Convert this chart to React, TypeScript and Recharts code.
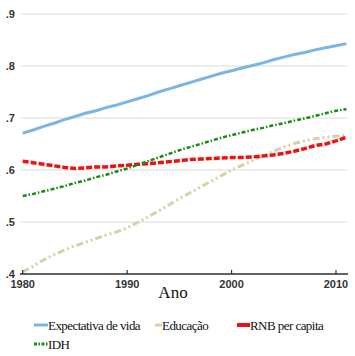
import React from 'react';
import { LineChart, Line, XAxis, YAxis, CartesianGrid, Label } from 'recharts';

const years = [
  1980, 1981, 1982, 1983, 1984, 1985, 1986, 1987, 1988, 1989,
  1990, 1991, 1992, 1993, 1994, 1995, 1996, 1997, 1998, 1999,
  2000, 2001, 2002, 2003, 2004, 2005, 2006, 2007, 2008, 2009,
  2010, 2011,
];

const expectativa = [
  0.671, 0.677, 0.684, 0.69, 0.697, 0.703, 0.709, 0.714, 0.72, 0.725,
  0.731, 0.737, 0.743, 0.75, 0.756, 0.762, 0.768, 0.774, 0.78, 0.786,
  0.791, 0.796, 0.801, 0.806, 0.812, 0.817, 0.822, 0.826, 0.831, 0.835,
  0.839, 0.843,
];

const educacao = [
  0.404, 0.415, 0.427, 0.437, 0.446, 0.454, 0.461, 0.468, 0.475, 0.481,
  0.489, 0.499, 0.51, 0.521, 0.533, 0.545, 0.556, 0.567, 0.578, 0.589,
  0.6, 0.609, 0.618, 0.627, 0.636, 0.644, 0.651, 0.656, 0.66, 0.663,
  0.665, 0.667,
];

const rnb = [
  0.617, 0.614, 0.611, 0.608, 0.605, 0.603, 0.604, 0.606, 0.606, 0.608,
  0.609, 0.611, 0.612, 0.614, 0.616, 0.618, 0.62, 0.621, 0.622, 0.623,
  0.624, 0.624, 0.625, 0.627, 0.629, 0.632, 0.636, 0.641, 0.647, 0.65,
  0.656, 0.663,
];

const idh = [
  0.55, 0.554, 0.559, 0.564, 0.569, 0.575, 0.58, 0.586, 0.591, 0.597,
  0.603, 0.61, 0.617, 0.624, 0.631, 0.638, 0.644, 0.65, 0.656, 0.662,
  0.667, 0.672, 0.677, 0.681, 0.686, 0.69, 0.695, 0.699, 0.704, 0.709,
  0.714, 0.717,
];

const xTicks = [1980, 1990, 2000, 2010];
const yTicks = [0.4, 0.5, 0.6, 0.7, 0.8, 0.9];

const data = years.map((year, i) => ({
  year,
  expectativa: expectativa[i],
  educacao: educacao[i],
  rnb: rnb[i],
  idh: idh[i],
}));

const BLUE = '#7ab6e3';
const TAN = '#d8d0a6';
const RED = '#ee1111';
const GREEN = '#178a17';

const SERIF = "'Liberation Serif', 'Times New Roman', serif";
const SANS = "Arial, 'Liberation Sans', sans-serif";

const XTick = (props: any) => {
  const { x, y, payload } = props;
  return (
    <g>
      <line x1={x} x2={x} y1={y - 4} y2={y} stroke="#333" strokeWidth={1.2} />
      <text x={x} y={y + 14} textAnchor="middle" fontFamily={SANS} fontSize={11} fontWeight={600} fill="#333">
        {payload.value}
      </text>
    </g>
  );
};

// legend: swatch start, swatch length, row centre
const legendItems = [
  { label: 'Expectativa de vida', color: BLUE, left: 34, len: 14, cy: 325, w: 3, dash: undefined },
  { label: 'Educação', color: TAN, left: 155, len: 7, cy: 325, w: 3, dash: undefined },
  { label: 'RNB per capita', color: RED, left: 237, len: 13, cy: 325, w: 4, dash: undefined },
  { label: 'IDH', color: GREEN, left: 34, len: 14, cy: 344, w: 3, dash: '3 1.5 1.5 1.5' },
];

const App: React.FC = () => {
  return (
    <div style={{ position: 'absolute', left: 0, top: 0, width: 355, height: 356, background: '#fff' }}>
      <LineChart
        width={355}
        height={356}
        data={data}
        margin={{ top: 14, right: 7, left: 0, bottom: 0 }}
      >
        <CartesianGrid vertical={false} stroke="#dcdcdc" strokeWidth={1} />
        <XAxis
          dataKey="year"
          type="number"
          domain={[1979.74, 2011.15]}
          allowDataOverflow
          ticks={xTicks}
          height={82}
          stroke="#333"
          strokeWidth={1.5}
          tickLine={false}
          tickSize={0}
          tickMargin={0}
          tick={<XTick />}
        >
          <Label
            value="Ano"
            position="insideTop"
            offset={12}
            dx={-11}
            style={{ fontFamily: SERIF, fontSize: 17, fill: '#111' }}
          />
        </XAxis>
        <YAxis
          type="number"
          domain={[0.4, 0.9]}
          ticks={yTicks}
          width={20}
          axisLine={false}
          tickLine={false}
          tickSize={0}
          tickMargin={5}
          tickFormatter={(v: number) => v.toFixed(1).replace(/^0/, '')}
          tick={{ fontFamily: SANS, fontSize: 11, fill: '#333', fontWeight: 600 }}
        />
        <Line dataKey="expectativa" stroke={BLUE} strokeWidth={3} dot={false} type="linear" isAnimationActive={false} />
        <Line
          dataKey="educacao"
          stroke={TAN}
          strokeWidth={3}
          strokeDasharray="7 3 2 3 2 3"
          dot={false}
          type="linear"
          isAnimationActive={false}
        />
        <Line
          dataKey="rnb"
          stroke={RED}
          strokeWidth={3.5}
          strokeDasharray="6 2"
          dot={false}
          type="linear"
          isAnimationActive={false}
        />
        <Line
          dataKey="idh"
          stroke={GREEN}
          strokeWidth={2.5}
          strokeDasharray="4 2 1.5 2"
          dot={false}
          type="linear"
          isAnimationActive={false}
        />
      </LineChart>
      <svg width={355} height={356} style={{ position: 'absolute', left: 0, top: 0, pointerEvents: 'none' }}>
        {legendItems.map((item) => (
          <g key={item.label}>
            <line
              x1={item.left}
              x2={item.left + item.len}
              y1={item.cy}
              y2={item.cy}
              stroke={item.color}
              strokeWidth={item.w}
              strokeDasharray={item.dash}
            />
            <text
              x={item.left + item.len}
              y={item.cy + 4.5}
              fontFamily={SERIF}
              fontSize={13}
              letterSpacing={-0.55}
              fill="#111"
            >
              {item.label}
            </text>
          </g>
        ))}
      </svg>
    </div>
  );
};

export default App;
